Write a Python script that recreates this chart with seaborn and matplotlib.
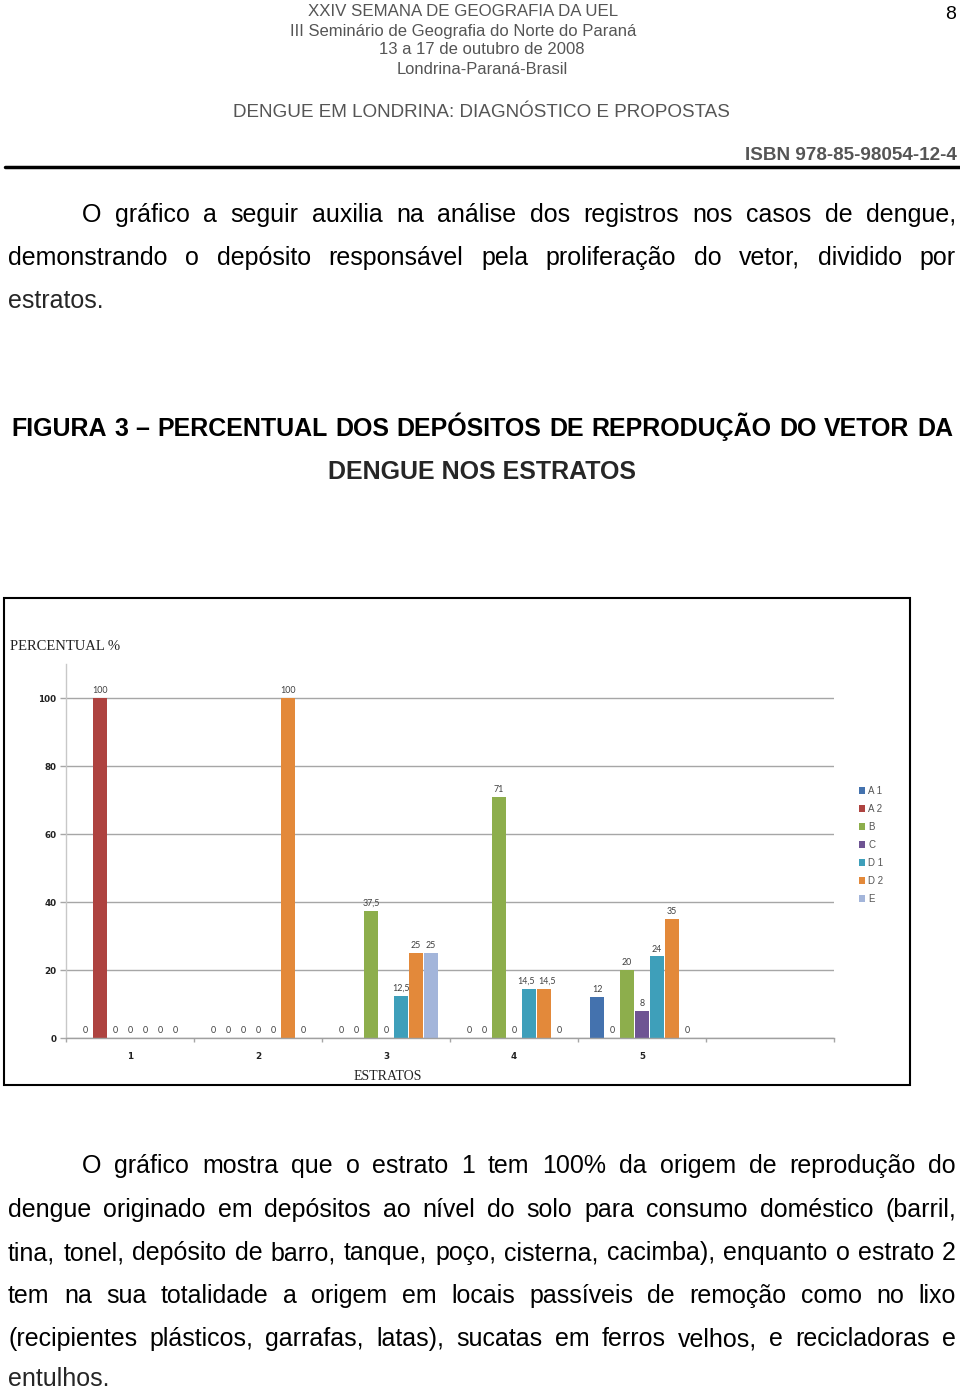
import matplotlib
matplotlib.use("Agg")
import matplotlib.pyplot as plt
import matplotlib.patches as mpatches
import matplotlib.lines as mlines
import seaborn as sns
import pandas as pd
import numpy as np

W, H = 960, 1390

# ---------------- data ----------------
estratos = ["1", "2", "3", "4", "5"]
series = ["A 1", "A 2", "B", "C", "D 1", "D 2", "E"]
a1 = [0, 0, 0, 0, 12]
a2 = [100, 0, 0, 0, 0]
b = [0, 0, 37.5, 71, 20]
c = [0, 0, 0, 0, 8]
d1 = [0, 0, 12.5, 14.5, 24]
d2 = [0, 100, 25, 14.5, 35]
e = [0, 0, 25, 0, 0]
y_ticks = [0, 20, 40, 60, 80, 100]
colors = ["#4472AE", "#AE4340", "#8DAE4C", "#6E5493", "#3E9FBA", "#E3893A", "#A3B5DA"]

header_lines = [
    "XXIV SEMANA DE GEOGRAFIA DA UEL",
    "III Seminário de Geografia do Norte do Paraná",
    "13 a 17 de outubro de 2008",
    "Londrina-Paraná-Brasil",
]
para1 = [
    "O gráfico a seguir auxilia na análise dos registros nos casos de dengue,",
    "demonstrando o depósito responsável pela proliferação do vetor, dividido por",
    "estratos.",
]
para2 = [
    "O gráfico mostra que o estrato 1 tem 100% da origem de reprodução do",
    "dengue originado em depósitos ao nível do solo para consumo doméstico (barril,",
    "tina, tonel, depósito de barro, tanque, poço, cisterna, cacimba), enquanto o estrato 2",
    "tem na sua totalidade a origem em locais passíveis de remoção como no lixo",
    "(recipientes plásticos, garrafas, latas), sucatas em ferros velhos, e recicladoras e",
    "entulhos.",
]

sns.set_theme(style="white")
plt.rcParams["font.family"] = ["Liberation Sans", "DejaVu Sans"]

fig = plt.figure(figsize=(W / 100, H / 100), dpi=100)
fig.patch.set_facecolor("white")
renderer = fig.canvas.get_renderer()


def fx(x):
    return x / W


def fy(y):
    return 1 - y / H


def fit_text(x0, x1, y, s, weight="normal", color="black", family=None):
    kw = {}
    if family:
        kw["family"] = family
    t = fig.text(fx(x0), fy(y), s, fontsize=10, ha="left", va="baseline",
                 weight=weight, color=color, **kw)
    w = t.get_window_extent(renderer).width
    t.set_fontsize(10 * (x1 - x0) / w)
    return t


def justify(x0, x1, y, s, size, weight="normal", color="black"):
    words = s.split(" ")
    ts = [fig.text(0, fy(y), wd, fontsize=size, ha="left", va="baseline",
                   weight=weight, color=color) for wd in words]
    widths = [t.get_window_extent(renderer).width for t in ts]
    gap = (x1 - x0 - sum(widths)) / max(len(words) - 1, 1)
    x = x0
    for t, w in zip(ts, widths):
        t.set_x(fx(x))
        x += w + gap


# ---------------- page header ----------------
hdr_color = "#555555"
fit_text(308, 618, 16, header_lines[0], color=hdr_color)
fit_text(290, 636, 36, header_lines[1], color=hdr_color)
fit_text(379, 584, 54, header_lines[2], color=hdr_color)
fit_text(397, 568, 74, header_lines[3], color=hdr_color)
fit_text(233, 731, 117, "DENGUE EM LONDRINA: DIAGNÓSTICO E PROPOSTAS", color=hdr_color)
fit_text(745, 956, 160, "ISBN 978-85-98054-12-4", weight="bold", color=hdr_color)
fig.text(fx(956), fy(19), "8", fontsize=14, ha="right", va="baseline", color="black")
fig.add_artist(mlines.Line2D([fx(5), fx(960)], [fy(167), fy(167)], color="black",
                             lw=2.5, transform=fig.transFigure))

# ---------------- body text ----------------
BODY = 18
justify(82, 956, 222, para1[0], BODY)
justify(8, 956, 265, para1[1], BODY)
fig.text(fx(8), fy(308), para1[2], fontsize=BODY, ha="left", va="baseline")

justify(11, 953, 436, "FIGURA 3 – PERCENTUAL DOS DEPÓSITOS DE REPRODUÇÃO DO VETOR DA", BODY,
        weight="bold")
fig.text(fx(482), fy(479), "DENGUE NOS ESTRATOS", fontsize=BODY, ha="center", va="baseline",
         weight="bold")

ys2 = [1173, 1217, 1260, 1303, 1346]
justify(82, 956, ys2[0], para2[0], BODY)
for yy, line in zip(ys2[1:], para2[1:5]):
    justify(8, 956, yy, line, BODY)
fig.text(fx(8), fy(1386), para2[5], fontsize=BODY, ha="left", va="baseline")

# ---------------- chart ----------------
rows = []
for s, vals in zip(series, [a1, a2, b, c, d1, d2, e]):
    for est, v in zip(estratos, vals):
        rows.append({"estrato": est, "serie": s, "valor": v})
df = pd.DataFrame(rows)

ax = fig.add_axes([fx(66), fy(1038), (834 - 66) / W, (1038 - 664) / H])
sns.barplot(data=df, x="estrato", y="valor", hue="serie", order=estratos,
            hue_order=series, palette=colors, width=0.82, gap=0.07, saturation=1,
            errorbar=None, ax=ax, linewidth=0)
ax.set_xlim(-0.5, 5.5)
ax.set_ylim(0, 110)
ax.set_facecolor("white")
ax.yaxis.grid(True, color="#A6A6A6", lw=1)
ax.xaxis.grid(False)
ax.set_axisbelow(True)


def fmt(v):
    return f"{v:g}".replace(".", ",")


label_sets = []
for cont in ax.containers:
    anns = ax.bar_label(cont, labels=[fmt(v) for v in cont.datavalues], padding=2,
                        fontsize=6.4, color="#404040", family=["Lato", "DejaVu Sans"])
    label_sets.append(anns)

# nudge neighbouring labels of equal height apart so they do not touch
for k in range(len(label_sets) - 1):
    for j in range(len(estratos)):
        left_t, right_t = label_sets[k][j], label_sets[k + 1][j]
        bl = left_t.get_window_extent(renderer)
        br = right_t.get_window_extent(renderer)
        if abs(bl.y0 - br.y0) < 3:
            overlap = bl.x1 - br.x0 + 3
            if overlap > 0:
                d = overlap / 2 * 72 / 100
                lx, ly = left_t.xyann
                rx, ry = right_t.xyann
                left_t.xyann = (lx - d, ly)
                right_t.xyann = (rx + d, ry)

lbl_font = ["DejaVu Sans"]
ax.set_yticks(y_ticks)
ax.set_yticklabels([str(t) for t in y_ticks], weight="bold", family=lbl_font)
ax.set_xticks(range(len(estratos)))
ax.set_xticklabels(estratos, weight="bold", family=lbl_font)
ax.set_xticks(np.arange(-0.5, 6, 1), minor=True)
ax.tick_params(axis="y", left=True, length=4, width=1, color="#A6A6A6", pad=3,
               labelsize=6.3, labelcolor="#222222")
ax.tick_params(axis="x", which="major", bottom=True, length=0, pad=10, labelsize=6.3,
               labelcolor="#222222")
ax.tick_params(axis="x", which="minor", bottom=True, length=3, width=1, color="#A6A6A6")
ax.set_xlabel("")
ax.set_ylabel("")
for sp in ["top", "right"]:
    ax.spines[sp].set_visible(False)
ax.spines["left"].set_color("#C8C8C8")
ax.spines["bottom"].set_color("#A0A0A0")
ax.spines["left"].set_linewidth(1)
ax.spines["bottom"].set_linewidth(1)

sns.move_legend(ax, "upper left", bbox_to_anchor=(fx(859), fy(786)),
                bbox_transform=fig.transFigure, frameon=False, fontsize=7,
                handlelength=0.65, handleheight=0.65, handletextpad=0.3,
                labelspacing=0.82, title=None, borderpad=0, borderaxespad=0)
for t in ax.get_legend().get_texts():
    t.set_color("#555555")

fig.text(fx(10), fy(650), "PERCENTUAL %", fontsize=10.5, family="Liberation Serif",
         ha="left", va="baseline", color="#222222")
fig.text(fx(354), fy(1080), "ESTRATOS", fontsize=10, family="Liberation Serif",
         ha="left", va="baseline", color="#222222")

fig.add_artist(mpatches.Rectangle((fx(4), fy(1085)), (910 - 4) / W, (1085 - 598) / H,
                                  transform=fig.transFigure, fill=False, ec="black",
                                  lw=1.5))

fig.savefig("out.png", dpi=100, facecolor="white")
